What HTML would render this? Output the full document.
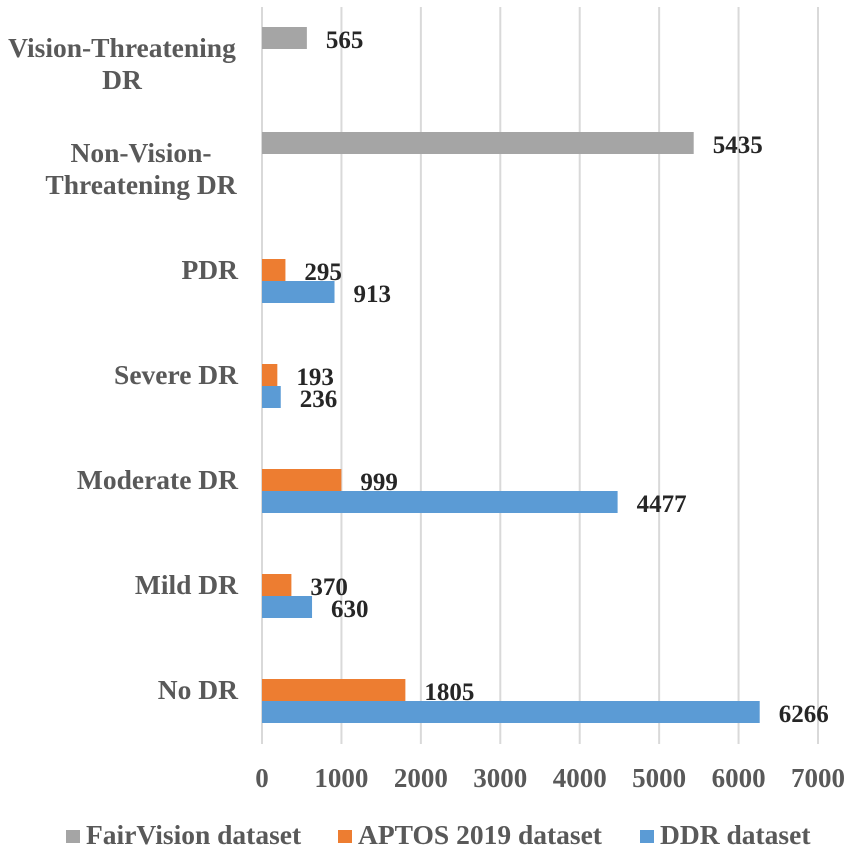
<!DOCTYPE html>
<html><head><meta charset="utf-8"><style>
body{margin:0;background:#fff;}
svg text{font-family:"Liberation Serif","Times New Roman",serif;font-weight:bold;}
</style></head><body>
<svg id="chart" width="851" height="852" xmlns="http://www.w3.org/2000/svg"></svg>
<script>
const categories=["Vision-Threatening DR","Non-Vision-Threatening DR","PDR","Severe DR","Moderate DR","Mild DR","No DR"];
const catLines=[["Vision-Threatening","DR"],["Non-Vision-","Threatening DR"],["PDR"],["Severe DR"],["Moderate DR"],["Mild DR"],["No DR"]];
const fairVision=[565,5435,null,null,null,null,null];
const aptos=[null,null,295,193,999,370,1805];
const ddr=[null,null,913,236,4477,630,6266];
const ticks=[0,1000,2000,3000,4000,5000,6000,7000];
const seriesNames=["FairVision dataset","APTOS 2019 dataset","DDR dataset"];
const colors=["#a5a5a5","#ed7d31","#5b9bd5"];

const NS="http://www.w3.org/2000/svg";
const svgEl=document.getElementById('chart');
const x0=262,x1=818,vmax=7000;
const xs=v=>x0+(x1-x0)*v/vmax;
const plotTop=18.5,band=105;
const yc=i=>plotTop+band*(i+0.5);
const bh=22;
function mk(tag,attrs){const e=document.createElementNS(NS,tag);for(const k in attrs)e.setAttribute(k,attrs[k]);svgEl.appendChild(e);return e;}

ticks.forEach((t)=>{
  const l=mk('line',{x1:xs(t),x2:xs(t),y1:7,y2:744,stroke:'#d9d9d9','stroke-width':2});
  
  
  const tx=mk('text',{x:xs(t),y:787,'text-anchor':'middle','font-size':27,fill:'#595959'});
  tx.textContent=t;
  
  
});

categories.forEach((c,i)=>{
  const lines=catLines[i];
  const cy=yc(i);
  if(lines.length===1){
    const t=mk('text',{x:238,y:cy-2,'text-anchor':'end','font-size':27.5,fill:'#595959'});
    t.textContent=lines[0];
    
    
  } else {
    lines.forEach((ln,j)=>{
      const t=mk('text',{x:i===0?122:141,y:cy-3+(j-0.5)*32+5,'text-anchor':'middle','font-size':27.5,fill:'#595959'});
      t.textContent=ln;
      
      
    });
  }
});

const series=[fairVision,aptos,ddr];
series.forEach((arr,s)=>{
  arr.forEach((v,i)=>{
    if(v===null)return;
    const y=yc(i)+bh*(s-2);
    const r=mk('rect',{x:xs(0),y:y,width:xs(v)-xs(0),height:bh,fill:colors[s]});
    
    
    const t=mk('text',{x:xs(v)+19,y:y+bh-1,'font-size':25,fill:'#262626'});
    t.textContent=v;
    
    
  });
});

const legX=[66,338,640];
seriesNames.forEach((n,s)=>{
  const r=mk('rect',{x:legX[s],y:830,width:14,height:13,fill:colors[s]});
  
  
  const t=mk('text',{x:legX[s]+20,y:844,'font-size':27.5,fill:'#595959'});
  t.textContent=n;
  
  
});
</script>
</body></html>
